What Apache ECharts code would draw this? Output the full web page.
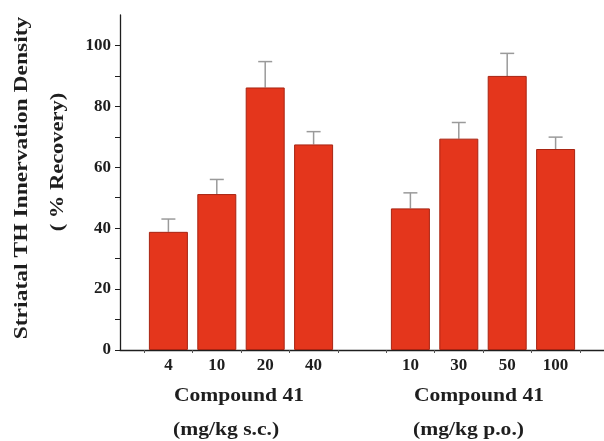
<!DOCTYPE html>
<html><head><meta charset="utf-8">
<script src="https://cdn.jsdelivr.net/npm/echarts@6/dist/echarts.min.js"></script>
<style>html,body{margin:0;padding:0;background:#fff}#c{width:604px;height:441px}</style>
</head><body><div id="c"></div>
<script>
const doseLabels = ['4','10','20','40','','10','30','50','100'];
const recovery = [38.8, 51.2, 86.2, 67.5, null, 46.5, 69.4, 90.0, 66.0];
const errorTop = [43.0, 56.0, 94.7, 71.7, null, 51.6, 74.7, 97.4, 69.9];
const yTicks = [0, 20, 40, 60, 80, 100];
const yTitle = ['Striatal TH Innervation Density', '( % Recovery)'];
const groupTitles = ['Compound 41', 'Compound 41'];
const groupUnits = ['(mg/kg s.c.)', '(mg/kg p.o.)'];

const barData = [], errData = [];
recovery.forEach((v, i) => { if (v != null) { barData.push([i, v]); errData.push([i, v, errorTop[i]]); } });
const labelPos = doseLabels.map((l, i) => i).filter(i => doseLabels[i] !== '');
const tickPos = [];
for (let i = 0; i <= 9; i++) tickPos.push(i - 0.5);

const font = '"Liberation Serif", "Times New Roman", serif';
const ink = '#1e1e1e';
const chart = echarts.init(document.getElementById('c'));
chart.setOption({
  animation: false,
  grid: { left: 120, right: 0, top: 15, bottom: 91 },
  xAxis: {
    type: 'value', min: -1, max: 9,
    splitLine: { show: false },
    axisLine: { onZero: false, lineStyle: { color: ink, width: 1.3 } },
    axisTick: { show: true, customValues: tickPos, length: 3, lineStyle: { color: '#555' } },
    axisLabel: { customValues: labelPos, formatter: v => doseLabels[Math.round(v)],
      fontFamily: font, fontWeight: 'bold', fontSize: 17, color: ink, margin: 7 }
  },
  yAxis: {
    type: 'value', min: 0, max: 110, interval: 10,
    splitLine: { show: false },
    axisLine: { show: true, onZero: false, lineStyle: { color: ink, width: 1.3 } },
    axisTick: { show: true, length: 5, lineStyle: { color: ink } },
    axisLabel: { formatter: v => yTicks.includes(v) ? String(v) : '', showMaxLabel: false,
      fontFamily: font, fontWeight: 'bold', fontSize: 17, color: ink, margin: 9 }
  },
  graphic: [
    { type: 'text', x: 22, y: 178, rotation: Math.PI/2, scaleX: 1.24, style: { text: yTitle[0], font: 'bold 19px ' + font, fill: ink, align: 'center', verticalAlign: 'middle' } },
    { type: 'text', x: 58, y: 162, rotation: Math.PI/2, scaleX: 1.25, style: { text: yTitle[1], font: 'bold 18px ' + font, fill: ink, align: 'center', verticalAlign: 'middle' } },
    { type: 'text', x: 239, y: 396, scaleX: 1.2, style: { text: groupTitles[0], font: 'bold 18px ' + font, fill: ink, align: 'center', verticalAlign: 'middle' } },
    { type: 'text', x: 479, y: 396, scaleX: 1.2, style: { text: groupTitles[1], font: 'bold 18px ' + font, fill: ink, align: 'center', verticalAlign: 'middle' } },
    { type: 'text', x: 173, y: 430, scaleX: 1.2, style: { text: groupUnits[0], font: 'bold 18px ' + font, fill: ink, align: 'left', verticalAlign: 'middle' } },
    { type: 'text', x: 413, y: 430, scaleX: 1.2, style: { text: groupUnits[1], font: 'bold 18px ' + font, fill: ink, align: 'left', verticalAlign: 'middle' } }
  ],
  series: [
    { type: 'custom', z: 1, data: errData,
      renderItem: (params, api) => {
        const x = api.value(0);
        const top = api.coord([x, api.value(2)]);
        const base = api.coord([x, api.value(1)]);
        const st = { stroke: '#9a9a9a', lineWidth: 1.5 };
        return { type: 'group', children: [
          { type: 'line', shape: { x1: top[0], y1: top[1], x2: base[0], y2: base[1] }, style: st },
          { type: 'line', shape: { x1: top[0]-7, y1: top[1], x2: top[0]+7, y2: top[1] }, style: st }
        ]};
      } },
    { type: 'bar', z: 2, data: barData, barWidth: 39,
      itemStyle: { color: '#e4361c', borderColor: '#a82412', borderWidth: 1 } }
  ]
});
</script></body></html>
